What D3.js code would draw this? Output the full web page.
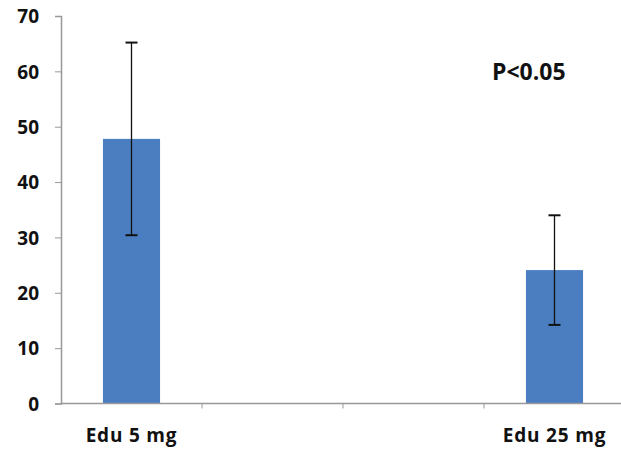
<!DOCTYPE html>
<html>
<head>
<meta charset="utf-8">
<script src="https://cdn.jsdelivr.net/npm/d3@7"></script>
<style>
  body { margin: 0; background: #fff; }
  svg text { font-family: "Open Sans", sans-serif; font-weight: bold; fill: #111; }
</style>
</head>
<body>
<div id="chart"></div>
<script>
// categories (two unlabeled slots in the middle, as in the original)
var categories = ["Edu 5 mg", "", " ", "Edu 25 mg"];
var means = [47.8, null, null, 24.1];
var errors = [17.4, null, null, 9.9];
var yTicks = [0, 10, 20, 30, 40, 50, 60, 70];

var width = 621, height = 451;
var margin = {left: 61, right: -4, top: 16, bottom: 47};

var svg = d3.select("#chart").append("svg")
    .attr("width", width)
    .attr("height", height);

var x = d3.scaleBand()
    .domain(categories)
    .range([margin.left, width - margin.right])
    .paddingInner(0)
    .paddingOuter(0);

var y = d3.scaleLinear()
    .domain([0, 70])
    .range([height - margin.bottom - 0.5, margin.top]);

var data = categories.map(function (c, i) {
  return {cat: c, v: means[i], e: errors[i]};
}).filter(function (d) { return d.v !== null; });

var barW = x.bandwidth() * 0.405;

// bars
svg.selectAll("rect.bar")
    .data(data)
    .enter().append("rect")
      .attr("class", "bar")
      .attr("x", function (d) { return x(d.cat) + (x.bandwidth() - barW) / 2; })
      .attr("width", barW)
      .attr("y", function (d) { return y(d.v); })
      .attr("height", function (d) { return y(0) - y(d.v); })
      .style("fill", "#4a7ec0");

// y axis
var yAxis = svg.append("g")
    .attr("transform", "translate(" + margin.left + ",0)")
    .call(d3.axisLeft(y).tickValues(yTicks).tickSize(6).tickPadding(16));
yAxis.select(".domain").attr("stroke", "#999").attr("stroke-width", 1.5);
yAxis.selectAll(".tick line").attr("stroke", "#999");
yAxis.selectAll("text").style("font-size", "19px").attr("dy", "0.36em");

// x axis with ticks on band boundaries
var xAxis = svg.append("g")
    .attr("transform", "translate(0," + y(0) + ")");
xAxis.append("line")
    .attr("x1", margin.left).attr("x2", width)
    .attr("stroke", "#999").attr("stroke-width", 1.5);
xAxis.selectAll("line.tk")
    .data(categories.slice(1))
    .enter().append("line")
      .attr("class", "tk")
      .attr("x1", function (d) { return x(d); })
      .attr("x2", function (d) { return x(d); })
      .attr("y1", 0).attr("y2", 5)
      .attr("stroke", "#999");
xAxis.selectAll("text")
    .data(categories.filter(function (c) { return c.trim() !== ""; }))
    .enter().append("text")
      .attr("x", function (d) { return x(d) + x.bandwidth() / 2; })
      .attr("y", 38)
      .attr("text-anchor", "middle")
      .style("font-size", "19px")
      .style("letter-spacing", "0.8px")
      .text(function (d) { return d; });

// error bars
var eb = svg.selectAll("g.err")
    .data(data)
    .enter().append("g")
      .attr("class", "err")
      .attr("stroke", "#111")
      .attr("stroke-width", 1.3);
eb.append("line")
    .attr("x1", function (d) { return x(d.cat) + x.bandwidth() / 2; })
    .attr("x2", function (d) { return x(d.cat) + x.bandwidth() / 2; })
    .attr("y1", function (d) { return y(d.v + d.e); })
    .attr("y2", function (d) { return y(d.v - d.e); });
eb.selectAll("line.cap")
    .data(function (d) { return [d.v + d.e, d.v - d.e].map(function (v) { return {cat: d.cat, v: v}; }); })
    .enter().append("line")
      .attr("class", "cap")
      .attr("x1", function (d) { return x(d.cat) + x.bandwidth() / 2 - 6; })
      .attr("x2", function (d) { return x(d.cat) + x.bandwidth() / 2 + 6; })
      .attr("y1", function (d) { return y(d.v); })
      .attr("y2", function (d) { return y(d.v); })
      .attr("stroke-width", 2);

// significance note
svg.append("text")
    .attr("x", 492)
    .attr("y", 80)
    .style("font-size", "23px")
    .text("P<0.05");
</script>
</body>
</html>
